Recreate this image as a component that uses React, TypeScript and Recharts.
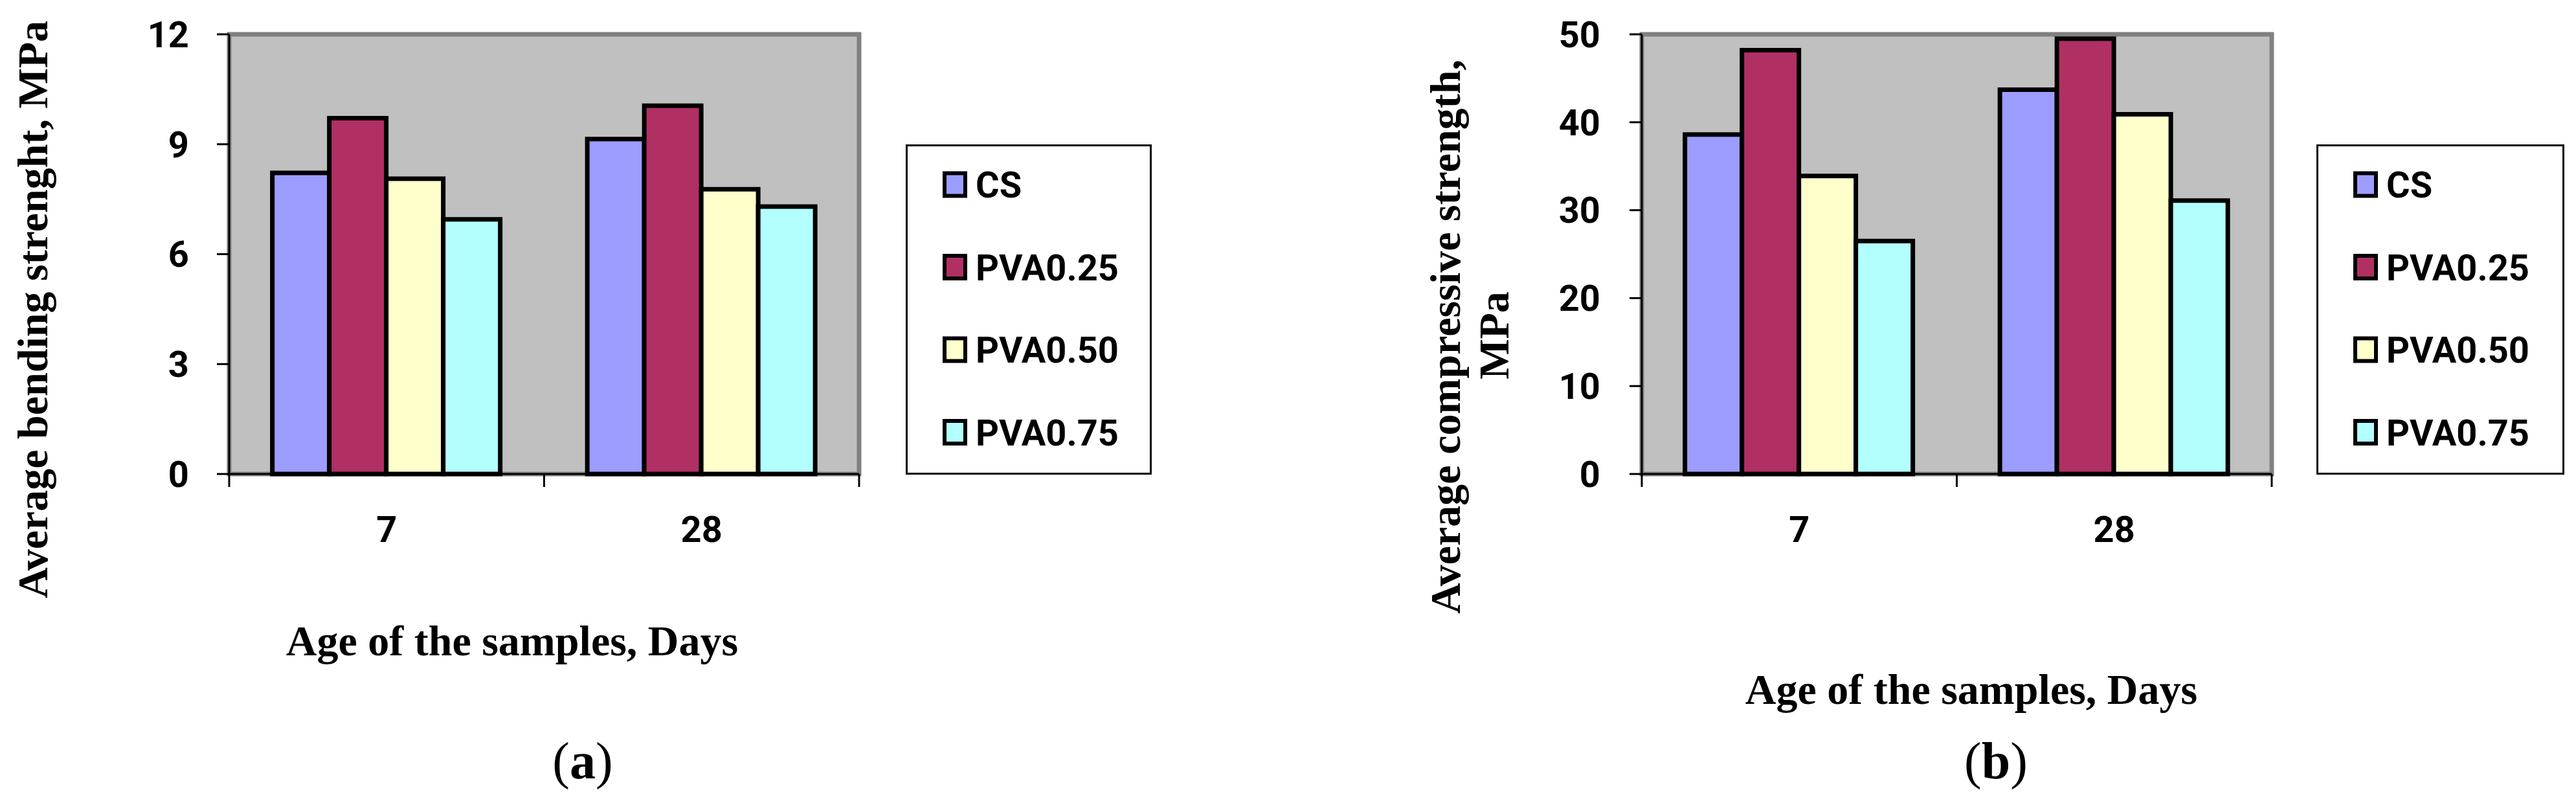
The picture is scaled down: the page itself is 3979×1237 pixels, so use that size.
import React from "react";
import { BarChart, Bar, XAxis, YAxis, Legend, Label, ReferenceArea } from "recharts";

// values
const ages = ["7", "28"];
const seriesKeys = ["cs", "pva025", "pva050", "pva075"];
const seriesNames = ["CS", "PVA0.25", "PVA0.50", "PVA0.75"];
const seriesColors = ["#9D9DFF", "#B03064", "#FFFFCC", "#B3FFFF"];

const bendingCS = [8.22, 9.14];
const bendingPVA025 = [9.71, 10.05];
const bendingPVA050 = [8.06, 7.77];
const bendingPVA075 = [6.95, 7.3];
const bendingTicks = [0, 3, 6, 9, 12];

const compressiveCS = [38.6, 43.7];
const compressivePVA025 = [48.2, 49.5];
const compressivePVA050 = [33.9, 40.9];
const compressivePVA075 = [26.5, 31.1];
const compressiveTicks = [0, 10, 20, 30, 40, 50];

const buildRows = (series: number[][]) =>
  ages.map((age, i) => {
    const row: any = { age };
    seriesKeys.forEach((k, s) => (row[k] = series[s][i]));
    return row;
  });

const bendingData = buildRows([bendingCS, bendingPVA025, bendingPVA050, bendingPVA075]);
const compressiveData = buildRows([
  compressiveCS,
  compressivePVA025,
  compressivePVA050,
  compressivePVA075,
]);

const SERIF = "'Liberation Serif', 'Times New Roman', serif";
const SANS = "Roboto, 'Noto Sans', sans-serif";

// category tick: label in the middle, tick marks on the band edges (Excel style)
const CategoryTick = (props: any) => {
  const { x, y, payload, index, visibleTicksCount } = props;
  const half = payload.offset || 0;
  const last = index === visibleTicksCount - 1;
  return (
    <g>
      <line x1={x - half} x2={x - half} y1={y} y2={y + 20} stroke="#000" strokeWidth={3} />
      {last && <line x1={x + half} x2={x + half} y1={y} y2={y + 20} stroke="#000" strokeWidth={3} />}
      <text
        x={x}
        y={y + 105}
        textAnchor="middle"
        fontFamily={SANS}
        fontWeight={700}
        fontSize={56}
        fill="#000"
      >
        {payload.value}
      </text>
    </g>
  );
};

const makeLegend = (w: number, h: number) => (props: any) => {
  const payload = props.payload || [];
  return (
    <svg width={w} height={h} style={{ display: "block" }}>
      <rect x={1.5} y={1.5} width={w - 3} height={h - 3} fill="#fff" stroke="#000" strokeWidth={3} />
      {payload.map((entry: any, i: number) => {
        const cy = 62 + i * 127.5;
        return (
          <g key={entry.value}>
            <rect x={60} y={cy - 17.5} width={32} height={35} fill={entry.color} stroke="#000" strokeWidth={6} />
            <text x={108} y={cy + 20} fontFamily={SANS} fontWeight={700} fontSize={56} fill="#000">
              {entry.value}
            </text>
          </g>
        );
      })}
    </svg>
  );
};

type PanelProps = {
  data: any[];
  ticks: number[];
  left: number;
  width: number;
  margin: { top: number; right: number; bottom: number; left: number };
  tickMargin: number;
  yTitle: { text: string; x: number; y: number }[];
  xTitle: { x: number; y: number };
  caption: { letter: string; x: number; y: number };
  legendBox: { left: number; top: number; width: number; height: number };
};

const Panel = (p: PanelProps) => {
  const yMax = p.ticks[p.ticks.length - 1];
  return (
    <div style={{ position: "absolute", left: p.left, top: 0 }}>
      <BarChart
        width={p.width}
        height={1237}
        data={p.data}
        margin={p.margin}
        barCategoryGap="13.7%"
        barGap={0}
      >
        <ReferenceArea
          x1={ages[0]}
          x2={ages[ages.length - 1]}
          y1={0}
          y2={yMax}
          fill="#C0C0C0"
          fillOpacity={1}
          stroke="#808080"
          strokeWidth={7}
        />
        <XAxis
          dataKey="age"
          height={60}
          axisLine={{ stroke: "#000", strokeWidth: 3 }}
          tickLine={false}
          tickSize={0}
          tickMargin={0}
          tick={<CategoryTick />}
          interval={0}
        >
          <Label
            content={() => (
              <g>
                <text
                  x={p.xTitle.x}
                  y={p.xTitle.y}
                  textAnchor="middle"
                  fontFamily={SERIF}
                  fontWeight={700}
                  fontSize={66}
                  fill="#000"
                >
                  Age of the samples, Days
                </text>
                <text x={p.caption.x} y={p.caption.y} textAnchor="middle" fontFamily={SERIF} fontSize={80} fill="#000">
                  (<tspan fontWeight={700}>{p.caption.letter}</tspan>)
                </text>
              </g>
            )}
          />
        </XAxis>
        <YAxis
          type="number"
          width={100}
          domain={[0, yMax]}
          ticks={p.ticks}
          interval={0}
          axisLine={{ stroke: "#000", strokeWidth: 3 }}
          tickLine={{ stroke: "#000", strokeWidth: 3 }}
          tickSize={19}
          tickMargin={p.tickMargin}
          tick={{ fill: "#000", fontFamily: SANS, fontWeight: 700, fontSize: 56 }}
        >
          <Label
            content={() => (
              <g>
                {p.yTitle.map((t) => (
                  <text
                    key={t.text}
                    x={t.x}
                    y={t.y}
                    transform={`rotate(-90, ${t.x}, ${t.y})`}
                    textAnchor="middle"
                    fontFamily={SERIF}
                    fontWeight={700}
                    fontSize={66}
                    fill="#000"
                  >
                    {t.text}
                  </text>
                ))}
              </g>
            )}
          />
        </YAxis>
        {seriesKeys.map((k, i) => (
          <Bar
            key={k}
            dataKey={k}
            name={seriesNames[i]}
            fill={seriesColors[i]}
            stroke="#000"
            strokeWidth={7}
            isAnimationActive={false}
          />
        ))}
        <Legend
          layout="horizontal"
          align="center"
          verticalAlign="middle"
          wrapperStyle={{ ...p.legendBox }}
          content={makeLegend(p.legendBox.width, p.legendBox.height)}
        />
      </BarChart>
    </div>
  );
};

export default function App() {
  return (
    <div style={{ position: "absolute", left: 0, top: 0, width: 3979, height: 1237, background: "#fff" }}>
      <Panel
        data={bendingData}
        ticks={bendingTicks}
        left={0}
        width={1990}
        margin={{ top: 53, right: 663, bottom: 445, left: 254 }}
        tickMargin={43}
        yTitle={[{ text: "Average bending strenght, MPa", x: 73, y: 478 }]}
        xTitle={{ x: 791, y: 1012 }}
        caption={{ letter: "a", x: 900, y: 1202 }}
        legendBox={{ left: 1399, top: 223, width: 380, height: 510 }}
      />
      <Panel
        data={compressiveData}
        ticks={compressiveTicks}
        left={1990}
        width={1989}
        margin={{ top: 53, right: 470, bottom: 445, left: 446 }}
        tickMargin={45}
        yTitle={[
          { text: "Average compressive strength,", x: 265, y: 520 },
          { text: "MPa", x: 340, y: 518 },
        ]}
        xTitle={{ x: 1055, y: 1087 }}
        caption={{ letter: "b", x: 1093, y: 1202 }}
        legendBox={{ left: 1588, top: 223, width: 383, height: 510 }}
      />
    </div>
  );
}
